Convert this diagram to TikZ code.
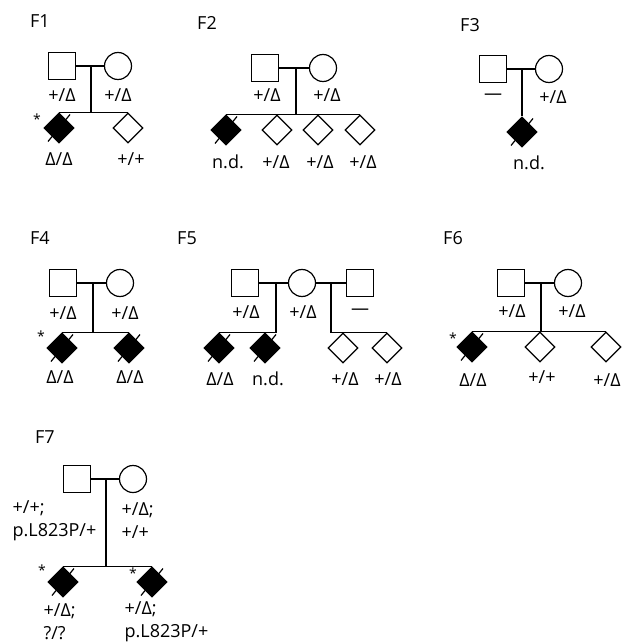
\documentclass[tikz,border=0pt]{standalone}
\usepackage{fontspec}
\setmainfont{Open Sans}
\usetikzlibrary{shapes.geometric}
\begin{document}
\begin{tikzpicture}[x=1pt,y=-1pt,line width=1.2pt,
	male/.style={draw,rectangle,minimum size=27pt,inner sep=0pt},
	female/.style={draw,circle,minimum size=27pt,inner sep=0pt},
	child/.style={draw,diamond,minimum size=30pt,inner sep=0pt},
	affected/.style={child,fill=black},
	geno/.style={font=\fontsize{18}{23}\selectfont,inner sep=0pt},
	fam/.style={font=\fontsize{18}{20}\selectfont,inner sep=0pt},
	proband/.style={font=\fontsize{14}{14}\selectfont,inner sep=0pt,anchor=base}]
		\useasboundingbox (0,0) rectangle (625,644);

		% F1
		\node[fam] (l1) at (40,21) {F1};
		\node[male] (f1m) at (62,66) {};
		\node[female] (f1f) at (118,66) {};
		\coordinate (f1j) at (91,66);
		\node[affected] (f1a) at (59,128) {};
		\node[child] (f1b) at (128,128) {};
		\draw (f1m) -- (f1f);
		\draw (f1j) -- (f1j |- f1a.north);
		\draw (f1a.north) -- (f1b.north);
		\node[geno] (g1m) at (62,95) {+/Δ};
		\node[geno] (g1f) at (118,95) {+/Δ};
		\node[geno] (g1a) at (59,159) {Δ/Δ};
		\node[geno] (g1b) at (131,159) {+/+};
		\node[proband] (p1) at (37,125) {*};

		% F2
		\node[fam] (l2) at (207,23) {F2};
		\node[male] (f2m) at (265,68) {};
		\node[female] (f2f) at (323,68) {};
		\coordinate (f2j) at (296,68);
		\node[affected] (f2a) at (226,130) {};
		\node[child] (f2b) at (277,130) {};
		\node[child] (f2c) at (318,130) {};
		\node[child] (f2d) at (360,130) {};
		\draw (f2m) -- (f2f);
		\draw (f2j) -- (f2j |- f2a.north);
		\draw (f2a.north) -- (f2d.north);
		\node[geno] (g2m) at (267,95) {+/Δ};
		\node[geno] (g2f) at (327,95) {+/Δ};
		\node[geno] (g2a) at (228,162) {n.d.};
		\node[geno] (g2b) at (276,162) {+/Δ};
		\node[geno] (g2c) at (320,162) {+/Δ};
		\node[geno] (g2d) at (363,162) {+/Δ};

		% F3
		\node[fam] (l3) at (470,25) {F3};
		\node[male] (f3m) at (493,69) {};
		\node[female] (f3f) at (549,69) {};
		\coordinate (f3j) at (522,69);
		\node[affected] (f3a) at (522,132) {};
		\draw (f3m) -- (f3f);
		\draw (f3j) -- (f3a.north);
		\node[geno] (g3m) at (493,97) {—};
		\node[geno] (g3f) at (553,97) {+/Δ};
		\node[geno] (g3a) at (529,163) {n.d.};

		% F4
		\node[fam] (l4) at (40,238) {F4};
		\node[male] (f4m) at (63,283) {};
		\node[female] (f4f) at (120,283) {};
		\coordinate (f4j) at (93,283);
		\node[affected] (f4a) at (62,348) {};
		\node[affected] (f4b) at (129,348) {};
		\draw (f4m) -- (f4f);
		\draw (f4j) -- (f4j |- f4a.north);
		\draw (f4a.north) -- (f4b.north);
		\node[geno] (g4m) at (63,313) {+/Δ};
		\node[geno] (g4f) at (125,313) {+/Δ};
		\node[geno] (g4a) at (60,377) {Δ/Δ};
		\node[geno] (g4b) at (130,377) {Δ/Δ};
		\node[proband] (p4) at (41,341) {*};

		% F5
		\node[fam] (l5) at (187,238) {F5};
		\node[male] (f5m) at (245,283) {};
		\node[female] (f5f) at (302,283) {};
		\node[male] (f5n) at (360,283) {};
		\coordinate (f5j) at (276,283);
		\coordinate (f5k) at (331,283);
		\node[affected] (f5a) at (219,348) {};
		\node[affected] (f5b) at (265,348) {};
		\node[child] (f5c) at (343,348) {};
		\node[child] (f5d) at (387,348) {};
		\draw (f5m) -- (f5f) -- (f5n);
		\draw (f5j) -- (f5j |- f5a.north) -- (f5a.north);
		\draw (f5k) -- (f5k |- f5c.north) -- (f5d.north);
		\node[geno] (g5m) at (246,312) {+/Δ};
		\node[geno] (g5f) at (303,312) {+/Δ};
		\node[geno] (g5n) at (360,312) {—};
		\node[geno] (g5a) at (220,379) {Δ/Δ};
		\node[geno] (g5b) at (268,379) {n.d.};
		\node[geno] (g5c) at (345,379) {+/Δ};
		\node[geno] (g5d) at (388,379) {+/Δ};

		% F6
		\node[fam] (l6) at (453,238) {F6};
		\node[male] (f6m) at (511,283) {};
		\node[female] (f6f) at (568,283) {};
		\coordinate (f6j) at (541,283);
		\node[affected] (f6a) at (472,347) {};
		\node[child] (f6b) at (540,347) {};
		\node[child] (f6c) at (606,347) {};
		\draw (f6m) -- (f6f);
		\draw (f6j) -- (f6j |- f6a.north);
		\draw (f6a.north) -- (f6c.north);
		\node[geno] (g6m) at (512,311) {+/Δ};
		\node[geno] (g6f) at (572,311) {+/Δ};
		\node[geno] (g6a) at (473,380) {Δ/Δ};
		\node[geno] (g6b) at (542,377) {+/+};
		\node[geno] (g6c) at (607,380) {+/Δ};
		\node[proband] (p6) at (453,343) {*};

		% F7
		\node[fam] (l7) at (45,437) {F7};
		\node[male] (f7m) at (77,479) {};
		\node[female] (f7f) at (133,479) {};
		\coordinate (f7j) at (106,479);
		\node[affected] (f7a) at (63,582) {};
		\node[affected] (f7b) at (152,582) {};
		\draw (f7m) -- (f7f);
		\draw (f7j) -- (f7j |- f7a.north);
		\draw (f7a.north) -- (f7b.north);
		\node[geno,align=left,anchor=west] (g7m) at (12,521) {+/+;\\p.L823P/+};
		\node[geno,align=left,anchor=west] (g7f) at (121,521) {+/Δ;\\+/+};
		\node[geno,align=left,anchor=west] (g7a) at (43,622) {+/Δ;\\?/?};
		\node[geno,align=left,anchor=west] (g7b) at (124,622) {+/Δ;\\p.L823P/+};
		\node[proband] (p7a) at (42,575) {*};
		\node[proband] (p7b) at (133,578) {*};

		% deceased
		\foreach \d in {f1a,f2a,f3a,f4a,f4b,f5a,f5b,f6a,f7a,f7b}
			\draw ([shift={(-11pt,-13.5pt)}]\d.center) -- ([shift={(11pt,13.5pt)}]\d.center);
	\end{tikzpicture}
\end{document}
